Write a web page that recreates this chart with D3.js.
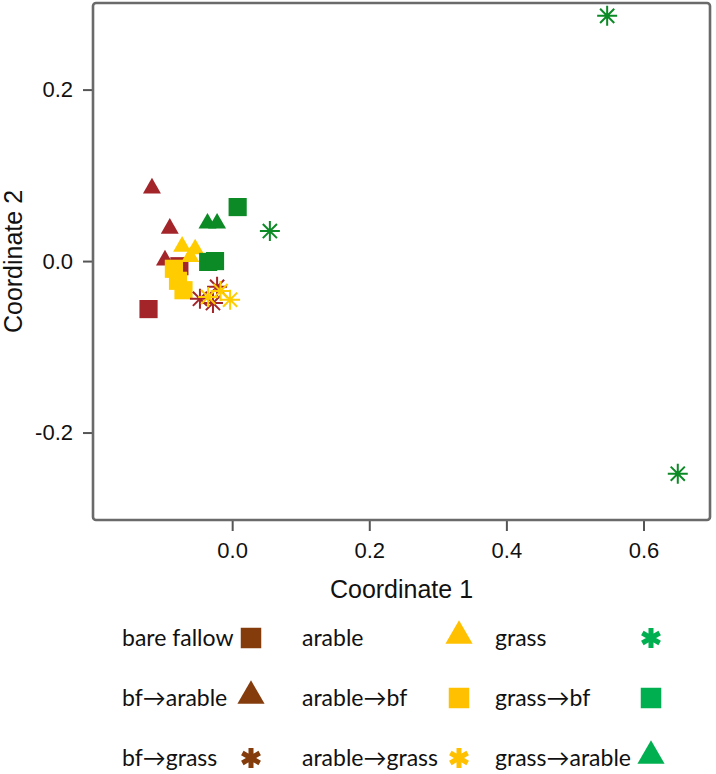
<!DOCTYPE html>
<html><head><meta charset="utf-8">
<script src="https://cdn.jsdelivr.net/npm/d3@7"></script>
<style>body{margin:0;background:#fff}</style>
</head><body><svg id="c" width="716" height="774"></svg>
<script>
// ---- data ----
const xTicks = [0.0, 0.2, 0.4, 0.6];
const yTicks = [-0.2, 0.0, 0.2];
const xDomain = [-0.203, 0.697];
const yDomain = [-0.302, 0.301];
const seriesNames = ["bare fallow","bf→arable","bf→grass","arable","arable→bf","arable→grass","grass","grass→bf","grass→arable"];
const seriesShapes = ["square","triangle","asterisk","triangle","square","asterisk","asterisk","square","triangle"];
const bareFallow   = [[-0.122,-0.056],[-0.077,-0.006]];
const bfArable     = [[-0.117,0.085],[-0.091,0.038],[-0.098,0.001]];
const bfGrass      = [[-0.047,-0.044],[-0.028,-0.049],[-0.022,-0.030]];
const arable       = [[-0.073,0.017],[-0.054,0.014],[-0.061,0.005]];
const arableBf     = [[-0.085,-0.009],[-0.079,-0.023],[-0.071,-0.034]];
const arableGrass  = [[-0.003,-0.045],[-0.035,-0.042],[-0.017,-0.035]];
const grass        = [[0.055,0.035],[0.547,0.286],[0.650,-0.248]];
const grassBf      = [[0.008,0.063],[-0.035,-0.001],[-0.025,0.000]];
const grassArable  = [[-0.036,0.044],[-0.022,0.044]];
const seriesData = [bareFallow,bfArable,bfGrass,arable,arableBf,arableGrass,grass,grassBf,grassArable];
const plotColors   = ["#a3252a","#a3252a","#a3252a","#ffcc00","#ffcc00","#ffcc00","#0b8a25","#0b8a25","#0b8a25"];
const legendColors = ["#843c0c","#843c0c","#843c0c","#ffc000","#ffc000","#ffc000","#00b050","#00b050","#00b050"];
// draw order (indices)
const drawOrder = [0,1,4,3,7,8,2,5,6];

// ---- layout ----
const svg = d3.select("#c");
const L = 93, R = 710, T = 3, B = 520;
const x = d3.scaleLinear().domain(xDomain).range([L, R]);
const y = d3.scaleLinear().domain(yDomain).range([B, T]);

function starPath(r, n) {
  let p = "";
  for (let i = 0; i < n; i++) {
    const a = Math.PI * i / n + Math.PI / 2;
    p += `M${r*Math.cos(a)},${-r*Math.sin(a)}L${-r*Math.cos(a)},${r*Math.sin(a)}`;
  }
  return p;
}

// axes
const fmt = d => d.toFixed(1);
const gx = svg.append("g").attr("transform", `translate(0,${B})`)
  .call(d3.axisBottom(x).tickValues(xTicks).tickFormat(fmt).tickSize(11).tickPadding(11));
const gy = svg.append("g").attr("transform", `translate(${L},0)`)
  .call(d3.axisLeft(y).tickValues(yTicks).tickFormat(fmt).tickSize(10).tickPadding(10));
[gx, gy].forEach(g => {
  g.select(".domain").remove();
  g.selectAll(".tick line").attr("stroke", "#555").attr("stroke-width", 2);
  g.selectAll(".tick text").attr("fill", "#111").style("font-family", "'Liberation Sans', Arial, sans-serif").style("font-size", "22px");
});

// frame
svg.append("rect").attr("x", L).attr("y", T).attr("width", R - L).attr("height", B - T)
  .attr("rx", 3).attr("fill", "none").attr("stroke", "#6a6a6a").attr("stroke-width", 2.6);

// titles
svg.append("text").attr("x", (L + R) / 2).attr("y", 598).attr("text-anchor", "middle")
  .style("font-family", "'Liberation Sans', Arial, sans-serif").style("font-size", "25px").attr("fill", "#111")
  .text("Coordinate 1");
svg.append("text").attr("transform", `translate(22,${(T + B) / 2}) rotate(-90)`).attr("text-anchor", "middle")
  .style("font-family", "'Liberation Sans', Arial, sans-serif").style("font-size", "25px").attr("fill", "#111")
  .text("Coordinate 2");

// points
const plot = svg.append("g");
drawOrder.forEach(i => {
  const shape = seriesShapes[i], col = plotColors[i];
  const sel = plot.selectAll(null).data(seriesData[i]).enter().append("path")
    .attr("transform", d => `translate(${x(d[0])},${y(d[1])})`);
  if (shape === "square") sel.attr("d", d3.symbol(d3.symbolSquare, 330)).attr("fill", col);
  else if (shape === "triangle") sel.attr("d", d3.symbol(d3.symbolTriangle, 140)).attr("fill", col);
  else sel.attr("d", starPath(10, 4)).attr("fill", "none").attr("stroke", col).attr("stroke-width", 2);
});

// legend
const legCols = [122, 302, 495];
const legSymX = [251, 459, 651];
const legRows = [646, 706, 766];
const leg = svg.append("g");
seriesNames.forEach((name, i) => {
  const c = Math.floor(i / 3), r = i % 3;
  leg.append("text").attr("x", legCols[c]).attr("y", legRows[r])
    .style("font-family", "Lato, 'Open Sans', sans-serif").style("font-size", "23px").attr("fill", "#111")
    .text(name);
  const shape = seriesShapes[i], col = legendColors[i];
  const sy = legRows[r] - 8;
  const p = leg.append("path").attr("transform", `translate(${legSymX[c]},${sy})`);
  if (shape === "square") p.attr("d", d3.symbol(d3.symbolSquare, 420)).attr("fill", col);
  else if (shape === "triangle") p.attr("d", d3.symbol(d3.symbolTriangle, 320)).attr("fill", col).attr("transform", `translate(${legSymX[c]},${sy - 2})`);
  else p.attr("d", starPath(10, 3)).attr("fill", "none").attr("stroke", col).attr("stroke-width", 5);
});
</script>
</body></html>
